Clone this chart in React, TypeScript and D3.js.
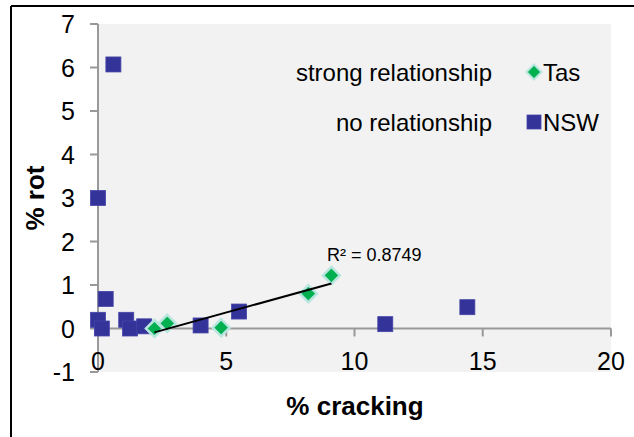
import React from "react";
import * as d3 from "d3";

const tasX = [2.2, 2.7, 4.8, 8.2, 9.1];
const tasY = [0.0, 0.12, 0.02, 0.8, 1.22];
const nswX = [0.6, 0.0, 0.3, 0.0, 0.15, 1.1, 1.25, 1.8, 4.0, 5.5, 11.2, 14.4];
const nswY = [6.07, 3.0, 0.68, 0.2, 0.0, 0.2, 0.0, 0.05, 0.07, 0.39, 0.1, 0.49];
const xTicks = [0, 5, 10, 15, 20];
const yTicks = [-1, 0, 1, 2, 3, 4, 5, 6, 7];
const rSquaredLabel = "R² = 0.8749";
const legendItems = [
  { label: "strong relationship", series: "Tas" },
  { label: "no relationship", series: "NSW" },
];

const FONT = "'Liberation Sans', Arial, sans-serif";

export default function App() {
  const W = 634, H = 437;
  const x = d3.scaleLinear().domain([0, 20]).range([98, 611]);
  const y = d3.scaleLinear().domain([-1, 7]).range([372, 24]);

  // linear regression for Tas trendline
  const mx = d3.mean(tasX)!;
  const my = d3.mean(tasY)!;
  let sxy = 0, sxx = 0;
  tasX.forEach((v, i) => { sxy += (v - mx) * (tasY[i] - my); sxx += (v - mx) ** 2; });
  const slope = sxy / sxx;
  const icpt = my - slope * mx;
  const x0 = d3.min(tasX)!, x1 = d3.max(tasX)!;
  const trend = d3.line<number>().x(v => x(v)).y(v => y(slope * v + icpt))([x0, x1]) || "";

  const diamond = (cx: number, cy: number, r: number) =>
    `M${cx},${cy - r}L${cx + r},${cy}L${cx},${cy + r}L${cx - r},${cy}Z`;

  const axisColor = "#999999";

  return (
    <div style={{ position: "fixed", left: 0, top: 0 }}>
      <svg width={W} height={H} style={{ display: "block", background: "#ffffff" }}>
        {/* outer frame (left & top visible) */}
        <line x1={11} y1={6} x2={11} y2={H} stroke="#000" strokeWidth={2} />
        <line x1={11} y1={6} x2={W} y2={6} stroke="#000" strokeWidth={2} />
        {/* plot area */}
        <rect x={x(0)} y={y(7)} width={x(20) - x(0)} height={y(-1) - y(7)} fill="#f2f2f2" />

        {/* y axis */}
        <line x1={x(0)} y1={y(7)} x2={x(0)} y2={y(-1)} stroke={axisColor} strokeWidth={2} />
        {yTicks.map(t => (
          <g key={"y" + t}>
            <line x1={x(0) - 8} x2={x(0)} y1={y(t)} y2={y(t)} stroke={axisColor} strokeWidth={2} />
            <text x={75} y={y(t)} dy="0.36em" textAnchor="end" fontFamily={FONT} fontSize={25} fill="#000">
              {t}
            </text>
          </g>
        ))}
        {/* x axis at y=0 */}
        <line x1={x(0)} y1={y(0)} x2={x(20)} y2={y(0)} stroke={axisColor} strokeWidth={2} />
        {xTicks.map(t => (
          <g key={"x" + t}>
            <line x1={x(t)} x2={x(t)} y1={y(0)} y2={y(0) + 8} stroke={axisColor} strokeWidth={2} />
            <text x={x(t)} y={370} textAnchor="middle" fontFamily={FONT} fontSize={25} fill="#000">
              {t}
            </text>
          </g>
        ))}

        {/* NSW squares */}
        {nswX.map((v, i) => (
          <rect key={"n" + i} x={x(v) - 7.5} y={y(nswY[i]) - 7.5} width={15} height={15}
            fill="#333399" stroke="#4545a8" strokeWidth={0.8} />
        ))}
        {/* Tas diamonds */}
        {tasX.map((v, i) => (
          <path key={"t" + i} d={diamond(x(v), y(tasY[i]), 8.5)} fill="#00b050"
            stroke="#b8e6df" strokeWidth={2.5} strokeLinejoin="miter" />
        ))}
        {/* trendline */}
        <path d={trend} stroke="#000" strokeWidth={2} fill="none" />
        <text x={327} y={261} fontFamily={FONT} fontSize={18} fill="#000">{rSquaredLabel}</text>

        {/* legend */}
        {legendItems.map((it, i) => {
          const cy = 72 + i * 50;
          return (
            <g key={"l" + i}>
              <text x={492} y={cy} dy="0.36em" textAnchor="end" fontFamily={FONT} fontSize={24} fill="#000">
                {it.label}
              </text>
              {i === 0 ? (
                <path d={diamond(534, cy, 7.5)} fill="#00b050" stroke="#b8e6df" strokeWidth={2} />
              ) : (
                <rect x={534 - 7} y={cy - 7} width={14} height={14} fill="#333399" stroke="#4545a8" strokeWidth={0.8} />
              )}
              <text x={543} y={cy} dy="0.36em" fontFamily={FONT} fontSize={24} fill="#000">
                {it.series}
              </text>
            </g>
          );
        })}

        {/* axis titles */}
        <text x={355} y={415} textAnchor="middle" fontFamily={FONT} fontSize={26} fontWeight="bold" fill="#000">
          % cracking
        </text>
        <text transform="translate(44,198) rotate(-90)" textAnchor="middle" fontFamily={FONT} fontSize={26}
          fontWeight="bold" fill="#000">
          % rot
        </text>
      </svg>
    </div>
  );
}
